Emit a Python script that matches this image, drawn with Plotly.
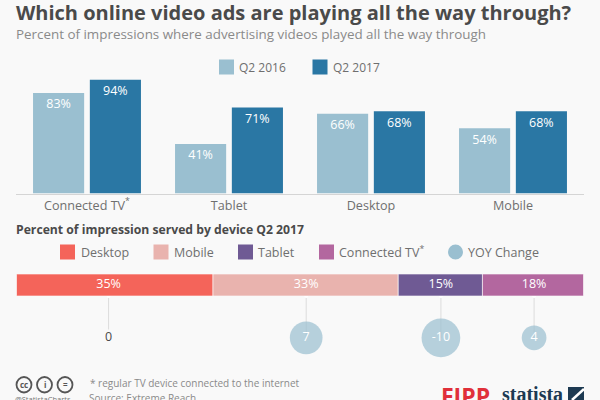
import plotly.graph_objects as go

FONT = "Open Sans"
DARK = "#4a4a4a"
GREY = "#6f6f6f"
BG = "#f9f9f9"

categories = ["Connected TV<sup>*</sup>", "Tablet", "Desktop", "Mobile"]
q2_2016 = [83, 41, 66, 54]
q2_2017 = [94, 71, 68, 68]

share_names = ["Desktop", "Mobile", "Tablet", "Connected TV<sup>*</sup>"]
share_values = [35, 33, 15, 18]
share_colors = ["#f4645a", "#e9b3ae", "#6f5a94", "#b3679f"]
yoy_change = [0, 7, -10, 4]
yoy_sizes = [0, 32.7, 38.7, 24.7]
label_positions = [16.4, 51.6, 75.6, 92.2]
connector_ends = [0.2, 0, 0, 0]

C2016 = "#9abfd0"
C2017 = "#2a77a4"
GROUP_POS = list(range(len(categories)))

fig = go.Figure()

# Upper panel: grouped bars per device; a transparent marker spaces each label below its bar top
for name, vals, col, off in [("Q2 2016", q2_2016, C2016, -0.38), ("Q2 2017", q2_2017, C2017, 0.02)]:
    fig.add_bar(x=GROUP_POS, y=vals, name=name, marker_color=col, marker_line_width=0,
                xaxis="x", yaxis="y", showlegend=False, offsetgroup=name, width=0.36, offset=off)
    fig.add_trace(go.Scatter(
        x=[p + off + 0.18 for p in GROUP_POS], y=vals, mode="markers+text",
        marker=dict(size=8, opacity=0),
        text=[f"{v}%" for v in vals], textposition="bottom center",
        textfont=dict(color="#ffffff", size=12.5, family=FONT),
        xaxis="x", yaxis="y", showlegend=False, hoverinfo="skip"))

# Lower panel: stacked share bar
for name, val, col in zip(share_names, share_values, share_colors):
    fig.add_bar(x=[val], y=[0], orientation="h", marker_color=col, width=1,
                marker_line_width=0.6, marker_line_color="#ffffff", hoverinfo="skip",
                xaxis="x2", yaxis="y2", showlegend=False)

fig.add_trace(go.Scatter(
    x=label_positions, y=[0] * 4, mode="text",
    text=[f"{v}%" for v in share_values], textposition="middle center",
    textfont=dict(color="#ffffff", size=12.5, family=FONT),
    xaxis="x2", yaxis="y2", showlegend=False, hoverinfo="skip"))

# Connectors and YOY bubbles below the share bar
for cx, end in zip(label_positions, connector_ends):
    fig.add_trace(go.Scatter(x=[cx, cx], y=[1.0, end], mode="lines",
                             line=dict(color="#dcdcdc", width=1),
                             xaxis="x3", yaxis="y3", showlegend=False, hoverinfo="skip"))
    fig.add_trace(go.Scatter(x=[cx], y=[1.0], mode="markers",
                             marker=dict(color="#ffffff", size=4),
                             xaxis="x3", yaxis="y3", showlegend=False, hoverinfo="skip"))

fig.add_trace(go.Scatter(
    x=label_positions, y=[0] * 4, mode="markers+text",
    marker=dict(size=yoy_sizes, color=C2016, line_width=0),
    text=[str(v) for v in yoy_change], textposition="middle center",
    textfont=dict(color=["#4a4a4a", "#ffffff", "#ffffff", "#ffffff"], size=12.5, family=FONT),
    xaxis="x3", yaxis="y3", showlegend=False, hoverinfo="skip"))

fig.update_layout(
    width=600, height=400, autosize=False,
    margin=dict(l=0, r=0, t=0, b=0),
    paper_bgcolor=BG, plot_bgcolor=BG,
    font=dict(family=FONT, color=GREY),
    barmode="relative",
    showlegend=False,
    xaxis=dict(domain=[16 / 600, 584 / 600], anchor="y", range=[-0.5, 3.5],
               tickmode="array", tickvals=GROUP_POS, ticktext=categories,
               tickfont=dict(size=12.6, color=GREY, family=FONT),
               showgrid=False, zeroline=False, showline=True, linecolor="#d5d5d5", linewidth=1,
               ticks="", ticklen=0),
    yaxis=dict(domain=[1 - 193.5 / 400, 1 - 66 / 400], range=[0, 105.4], visible=False),
    xaxis2=dict(domain=[16.5 / 600, 583.5 / 600], anchor="y2", range=[0, 101], visible=False),
    yaxis2=dict(domain=[1 - 296 / 400, 1 - 274 / 400], anchor="x2", range=[-0.5, 0.5], visible=False),
    xaxis3=dict(domain=[16.5 / 600, 583.5 / 600], anchor="y3", range=[0, 101], visible=False),
    yaxis3=dict(domain=[1 - 360 / 400, 1 - 296 / 400], anchor="x3", range=[-0.53, 1.0], visible=False),
)


def text(x, y, s, size, color=GREY, anchor="left", bold=False, family=FONT):
    # Annotations carry 2px of padding, taken off so x is the ink edge
    fig.add_annotation(xref="paper", yref="paper", x=(x - (2 if anchor == "left" else 0)) / 600, y=1 - y / 400,
                       text=f"<b>{s}</b>" if bold else s,
                       showarrow=False, xanchor=anchor, yanchor="middle",
                       font=dict(size=size, color=color, family=family))


def swatch(x, y, color, circle=False):
    if circle:
        fig.add_shape(type="circle", xref="paper", yref="paper",
                      x0=x / 600, x1=(x + 15) / 600, y0=1 - (y + 7.5) / 400, y1=1 - (y - 7.5) / 400,
                      fillcolor=color, line_width=0)
        return
    fig.add_shape(type="rect", xref="paper", yref="paper",
                  x0=(x + 1) / 600, x1=(x + 14) / 600, y0=1 - (y + 6.5) / 400, y1=1 - (y - 6.5) / 400,
                  fillcolor=color, line=dict(color=color, width=2))


text(16, 12, "Which online video ads are playing all the way through?", 20, DARK, bold=True)
text(16, 34, "Percent of impressions where advertising videos played all the way through", 13.4, "#8a8a8a")

swatch(219, 67, C2016)
text(239, 67, "Q2 2016", 12)
swatch(312.5, 67, C2017)
text(332.5, 67, "Q2 2017", 12)

text(16, 229, "Percent of impression served by device Q2 2017", 12.2, DARK, bold=True)

swatch(60, 252, share_colors[0])
text(80.5, 252, "Desktop", 12.5)
swatch(153.5, 252, share_colors[1])
text(173.5, 252, "Mobile", 12.5)
swatch(238, 252, share_colors[2])
text(258, 252, "Tablet", 12.5)
swatch(319, 252, share_colors[3])
text(339, 252, "Connected TV<sup>*</sup>", 12.5)
swatch(448, 252, C2016, circle=True)
text(468, 252, "YOY Change", 12.5)

text(90, 383, "* regular TV device connected to the internet", 10, "#8a8a8a")
text(89, 398, "Source: Extreme Reach", 10, "#8a8a8a")
text(15, 398.5, "@StatistaCharts", 7.5, "#777777")

# Licence badges
for cx, label in [(24, "cc"), (44.5, "i"), (65, "=")]:
    fig.add_shape(type="circle", xref="paper", yref="paper",
                  x0=(cx - 7.5) / 600, x1=(cx + 7.5) / 600, y0=1 - 392.5 / 400, y1=1 - 377 / 400,
                  line=dict(color="#555555", width=1.8), fillcolor=BG)
    text(cx, 384.5, label, 8, "#555555", anchor="center", bold=True)

text(465, 396, "FIPP", 23, "#e0303a", anchor="center", bold=True)
text(532.5, 394, "statista", 20, "#1d3a52", anchor="center", bold=True, family="Liberation Sans Narrow")
fig.add_shape(type="rect", xref="paper", yref="paper", x0=568 / 600, x1=584 / 600, y0=0, y1=1 - 387 / 400,
              fillcolor="#1d3a52", line_width=0)
fig.add_shape(type="line", xref="paper", yref="paper", x0=572 / 600, x1=584 / 600, y0=0, y1=1 - 389 / 400,
              line=dict(color="#ffffff", width=2.5))

fig.write_html("out.html")
